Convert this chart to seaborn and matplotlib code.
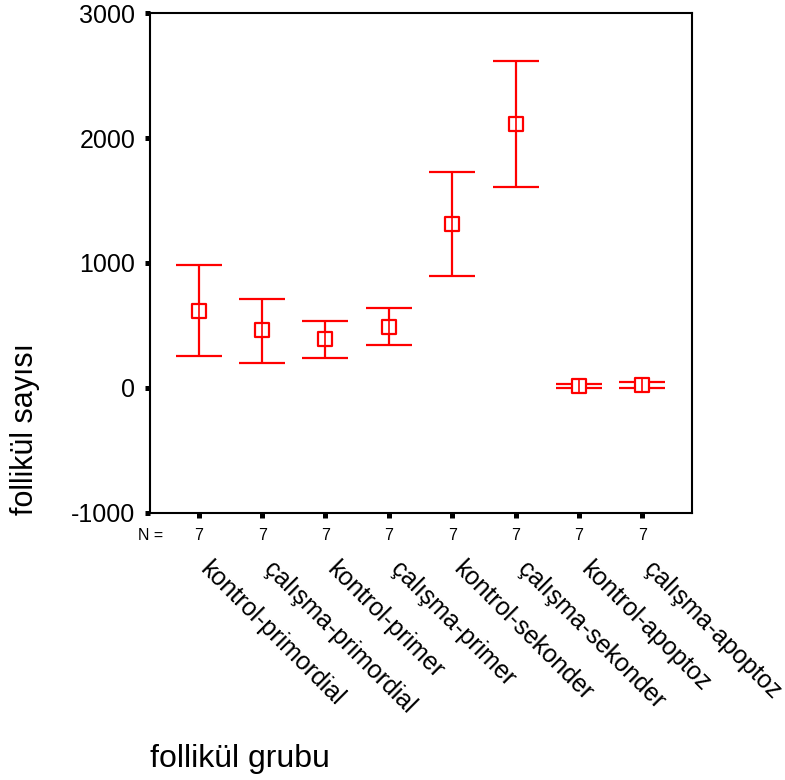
import numpy as np
import pandas as pd
import matplotlib
matplotlib.use("Agg")
import matplotlib.pyplot as plt
import matplotlib.transforms as mtransforms
import seaborn as sns

groups = ["kontrol-primordial", "çalışma-primordial", "kontrol-primer", "çalışma-primer",
          "kontrol-sekonder", "çalışma-sekonder", "kontrol-apoptoz", "çalışma-apoptoz"]
means = [615, 465, 395, 484, 1315, 2113, 14, 24]
lower = [258, 202, 239, 341, 898, 1610, -4, 0]
upper = [986, 710, 537, 640, 1731, 2618, 32, 48]
counts = [7, 7, 7, 7, 7, 7, 7, 7]
yticks = [-1000, 0, 1000, 2000, 3000]

sns.set_style("ticks")
plt.rcParams["font.family"] = ["Liberation Sans", "DejaVu Sans"]
plt.rcParams["text.color"] = "black"
plt.rcParams["axes.labelcolor"] = "black"
plt.rcParams["xtick.color"] = "black"
plt.rcParams["ytick.color"] = "black"

df = pd.DataFrame({"grup": groups, "mean": means, "lo": lower, "hi": upper, "n": counts})

fig = plt.figure(figsize=(7.85, 7.8), dpi=100)
ax = fig.add_axes([150 / 785, 1 - 512.7 / 780, 541.7 / 785, 499.4 / 780])

red = "#ff0000"
yerr = np.vstack([df["mean"] - df["lo"], df["hi"] - df["mean"]])
ax.errorbar(df["grup"], df["mean"], yerr=yerr, fmt="none", ecolor=red,
            elinewidth=1.6, capsize=16.5, capthick=1.6, zorder=2)
sns.scatterplot(data=df, x="grup", y="mean", marker="s", s=105, facecolor="white",
                edgecolor=red, linewidth=1.6, ax=ax, zorder=3, legend=False)
# vertical line visible through the box as in the reference
ax.errorbar(df["grup"], df["mean"], yerr=np.full((2, len(df)), 60.0),
            fmt="none", ecolor=red, elinewidth=1.2, capsize=0, zorder=4)

ax.set_xlim(-0.77, 7.78)
ax.set_ylim(-1000, 3000)
ax.set_yticks(yticks)
ax.set_yticklabels([str(v) for v in yticks], fontsize=18)
ax.set_xticks(range(len(groups)))
ax.set_xticklabels(df["grup"], rotation=-45, ha="left", va="top",
                   rotation_mode="anchor", fontsize=18)
ax.tick_params(axis="y", length=3.6, width=3.6, pad=7)
ax.tick_params(axis="x", length=3.6, width=3.6, pad=28)
offset = mtransforms.ScaledTranslation(14 / 100, 0, fig.dpi_scale_trans)
for lab in ax.get_xticklabels():
    lab.set_transform(lab.get_transform() + offset)
for sp in ax.spines.values():
    sp.set_visible(True)
    sp.set_linewidth(1.5)
    sp.set_color("black")
ax.set_xlabel("")
ax.set_ylabel("")

trans = ax.get_xaxis_transform()
yN = -(535 - 512.7) / 499.4
for i, n in enumerate(df["n"]):
    ax.text(i, yN, str(n), transform=trans, ha="center", va="center", fontsize=11.5)
ax.text(13 / 541.7, yN, "N =", transform=ax.transAxes, ha="right", va="center", fontsize=11.5)

fig.text(25 / 785, 1 - 429 / 780, "follikül sayısı", rotation=90, ha="center", va="center", fontsize=22)
fig.text(150 / 785, 1 - 759 / 780, "follikül grubu", ha="left", va="center", fontsize=23)

fig.savefig("out.png", dpi=100)
